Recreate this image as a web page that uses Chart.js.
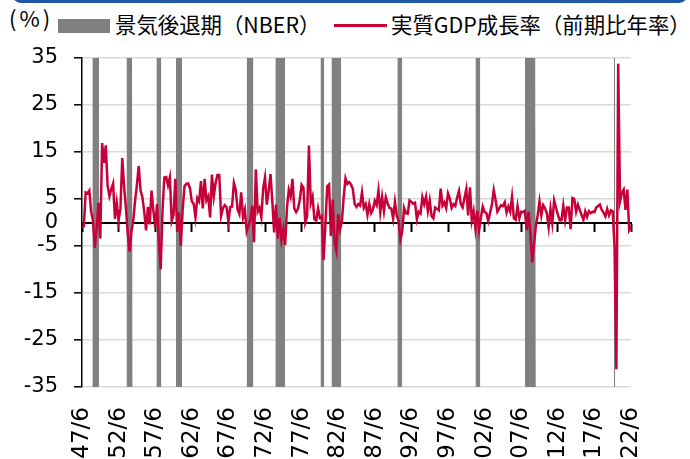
<!DOCTYPE html>
<html lang="ja">
<head>
<meta charset="utf-8">
<title>実質GDP成長率と景気後退期</title>
<script src="https://cdn.jsdelivr.net/npm/chart.js@4.4.1/dist/chart.umd.min.js"></script>
<style>
  html, body { margin: 0; padding: 0; background: #fff; }
  #wrap { position: relative; width: 690px; height: 459px; overflow: hidden; background: #fff; }
  #wrap canvas { position: absolute; left: 0; top: 0; }
  .topbar { position: absolute; left: 12px; top: -12px; width: 676px; height: 15px; background: #1f56a6; border-radius: 0 0 9px 9px; }
  .txt { position: absolute; font-family: "Noto Sans CJK JP", sans-serif; font-size: 21.4px; line-height: 21px; color: #000; white-space: nowrap; }
  .unit { left: 9px; top: 7px; font-size: 22px; letter-spacing: 3px; }
  .key-rec { position: absolute; left: 58px; top: 19px; width: 52px; height: 14px; background: #808080; }
  .key-gdp { position: absolute; left: 334px; top: 24px; width: 53px; height: 2.5px; background: #c8003a; }
  .lbl-rec { left: 115px; top: 13px; }
  .lbl-gdp { left: 391px; top: 13px; }
</style>
</head>
<body>
<div id="wrap">
  <div class="topbar"></div>
  <div class="txt unit">(%)</div>
  <div class="key-rec"></div>
  <div class="txt lbl-rec">景気後退期（NBER）</div>
  <div class="key-gdp"></div>
  <div class="txt lbl-gdp">実質GDP成長率（前期比年率）</div>
  <canvas id="chart" width="690" height="459"></canvas>
</div>
<script>
// x labels that are shown (every 5 years, June)
const xTickLabels = ['47/6', '52/6', '57/6', '62/6', '67/6', '72/6', '77/6', '82/6',
    '87/6', '92/6', '97/6', '02/6', '07/6', '12/6', '17/6', '22/6'];
const yTickValues = [-35, -25, -15, -5, 0, 5, 15, 25, 35];
const yMin = -35;
const yMax = 35;

// real GDP growth, q/q annualized (%), 1947/6 .. 2022/6
const gdpGrowth = [
    -1.0, -0.8, 6.4,            // 1947
    6.2, 6.8, 2.3, 0.4,         // 1948
    -5.4, -1.3, 4.2, -3.4,
    16.9, 12.7, 16.4, 7.8,      // 1950
    5.6, 7.1, 8.3, 0.8,
    4.2, 0.4, 3.0, 13.7,
    7.6, 3.1, -2.3, -6.2,
    -1.9, 0.4, 4.6, 8.0,
    12.0, 6.8, 5.4, 2.3,        // 1955
    -1.7, 3.3, -0.4, 6.8,
    2.5, -1.0, 3.9, -4.1,
    -10.0, 2.6, 9.6, 9.7,
    7.9, 9.6, 0.3, 1.6,
    9.3, -2.0, 2.1, -5.0,       // 1960
    2.7, 7.7, 8.2, 8.3,
    7.3, 4.5, 4.0, 1.1,
    5.2, 4.5, 8.8, 3.0,
    9.3, 4.7, 5.6, 1.1,
    10.2, 5.5, 8.4, 10.1,       // 1965
    10.1, 1.4, 3.0, 3.7,
    3.3, 0.2, 3.3, 3.4,
    8.4, 7.0, 2.8, 1.8,
    6.4, 1.1, 2.7, -1.9,
    -0.6, 0.6, 3.6, -4.2,       // 1970
    11.3, 2.3, 3.1, 1.1,
    7.3, 9.6, 3.8, 6.8,
    10.3, 4.5, -2.1, 3.8,
    -3.4, 1.0, -3.7, -1.5,
    -4.8, 3.1, 6.9, 5.5,        // 1975
    9.3, 3.0, 2.2, 2.9,
    4.8, 8.0, 7.4, 0.0,
    1.3, 16.4, 4.1, 5.5,
    0.7, 0.4, 3.0, 1.0,
    1.3, -8.0, -0.5, 7.7,       // 1980
    8.1, -2.9, 4.9, -4.3,
    -6.1, 1.8, -1.5, 0.2,
    5.4, 9.4, 8.2, 8.6,
    8.1, 7.1, 3.9, 3.3,
    3.9, 3.6, 6.4, 3.1,         // 1985
    3.9, 1.6, 3.9, 2.0,
    2.8, 4.6, 3.7, 6.8,
    2.2, 5.4, 2.4, 5.4,
    4.1, 3.1, 3.0, 0.8,
    4.4, 1.5, 0.3, -3.6,        // 1990
    -1.9, 3.1, 2.0, 1.9,
    4.7, 4.4, 4.0, 4.2,
    0.7, 2.3, 1.9, 5.4,
    3.9, 5.5, 2.4, 4.7,
    1.4, 0.9, 3.2, 2.9,         // 1995
    2.6, 7.2, 3.6, 4.3,
    3.1, 6.2, 5.1, 3.1,
    3.9, 3.5, 5.3, 6.7,
    3.9, 3.2, 5.2, 7.1,
    1.5, 7.5, 0.4, 2.4,         // 2000
    -1.3, 2.5, -1.6, 1.1,
    3.4, 2.2, 2.0, 0.3,
    2.1, 3.8, 6.9, 4.8,
    2.3, 3.0, 3.7, 3.5,
    4.3, 2.1, 3.4, 2.3,         // 2005
    5.5, 0.9, 0.6, 3.5,
    0.9, 2.3, 2.2, 2.5,
    -1.6, 2.3, -2.1, -8.5,
    -4.6, -0.7, 1.5, 4.5,
    1.5, 3.7, 3.0, 2.0,         // 2010
    -1.0, 2.9, -0.1, 4.7,
    3.2, 1.7, 0.5, 0.5,
    3.6, 0.5, 3.2, 3.2,
    -1.4, 5.2, 5.0, 2.3,
    3.8, 2.7, 1.6, 0.6,         // 2015
    2.4, 1.2, 2.4, 2.0,
    2.3, 2.2, 3.2, 3.5,
    3.8, 2.7, 2.1, 1.3,
    2.9, 1.5, 2.6, 2.4,
    -5.1, -31.2, 33.8, 4.5,     // 2020
    6.3, 7.0, 2.7, 7.0,
    -1.6, -0.9                  // 2022
];

// NBER recessions, peak month .. trough month
const recessions = [
    ['48/11', '49/10'], ['53/7', '54/5'], ['57/8', '58/4'], ['60/4', '61/2'],
    ['69/12', '70/11'], ['73/11', '75/3'], ['80/1', '80/7'], ['81/7', '82/11'],
    ['90/7', '91/3'], ['01/3', '01/11'], ['07/12', '09/6'], ['20/2', '20/4']
];

// monthly category axis so the recession shading starts/ends on the right month
const months = [];
let yr = 1947, mo = 6;
while (yr < 2022 || (yr === 2022 && mo <= 6)) {
    months.push(String(yr % 100).padStart(2, '0') + '/' + mo);
    mo++;
    if (mo > 12) { mo = 1; yr++; }
}

// quarterly points land on every third month
const gdpSeries = months.map((m, i) => (i % 3 === 0 ? gdpGrowth[i / 3] : null));

const recessionSeries = months.map(() => null);
recessions.forEach(([from, to]) => {
    const a = months.indexOf(from);
    const b = months.indexOf(to);
    for (let i = a; i <= b; i++) recessionSeries[i] = yMax;
});

const shownTicks = (axis) => {
    axis.ticks = xTickLabels.map(l => ({value: months.indexOf(l)}));
};

const numFont = {family: 'DejaVu Sans', size: 21};

new Chart(document.getElementById('chart'), {
    type: 'line',
    data: {
        labels: months,
        datasets: [
            {
                label: '実質GDP成長率（前期比年率）',
                data: gdpSeries,
                borderColor: '#c8003a',
                borderWidth: 2.5,
                pointRadius: 0,
                spanGaps: true,
                tension: 0,
                fill: false,
                order: 1
            },
            {
                label: '景気後退期（NBER）',
                data: recessionSeries,
                backgroundColor: '#808080',
                borderColor: 'rgba(0,0,0,0)',
                borderWidth: 0,
                pointRadius: 0,
                spanGaps: false,
                fill: 'start',
                order: 2
            }
        ]
    },
    options: {
        responsive: false,
        animation: false,
        devicePixelRatio: 1,
        layout: {padding: {left: 0, top: 58, right: 59, bottom: 0}},
        plugins: {
            legend: {display: false},
            tooltip: {enabled: false}
        },
        scales: {
            y: {
                position: 'left',
                min: yMin,
                max: yMax,
                afterBuildTicks: (axis) => {
                    axis.ticks = yTickValues.map(v => ({value: v}));
                },
                afterFit: (axis) => { axis.width = 82; },
                ticks: {font: numFont, color: '#000', padding: 16},
                grid: {
                    color: (c) => (c.tick && c.tick.value === 0 ? 'rgba(0,0,0,0)' : '#d9d9d9'),
                    lineWidth: 1.6,
                    tickLength: 8,
                    tickWidth: 1.5,
                    tickColor: (c) => (c.tick && c.tick.value === 0 ? 'rgba(0,0,0,0)' : '#000')
                },
                border: {display: true, color: '#000', width: 1.5}
            },
            // zero line with the 5-year tick marks
            x: {
                type: 'category',
                position: {y: 0},
                z: 1,
                afterBuildTicks: shownTicks,
                ticks: {display: false},
                grid: {drawOnChartArea: false, drawTicks: true, tickLength: 8, tickWidth: 2, tickColor: '#000'},
                border: {display: true, color: '#000', width: 2}
            },
            // labels along the bottom
            x2: {
                type: 'category',
                position: 'bottom',
                afterBuildTicks: shownTicks,
                afterFit: (axis) => { axis.height = 72; },
                ticks: {autoSkip: false, minRotation: 90, maxRotation: 90, padding: 20,
                    font: {family: 'DejaVu Sans', size: 23}, color: '#000'},
                grid: {display: false, drawTicks: false},
                border: {display: false}
            }
        }
    }
});
</script>
</body>
</html>
